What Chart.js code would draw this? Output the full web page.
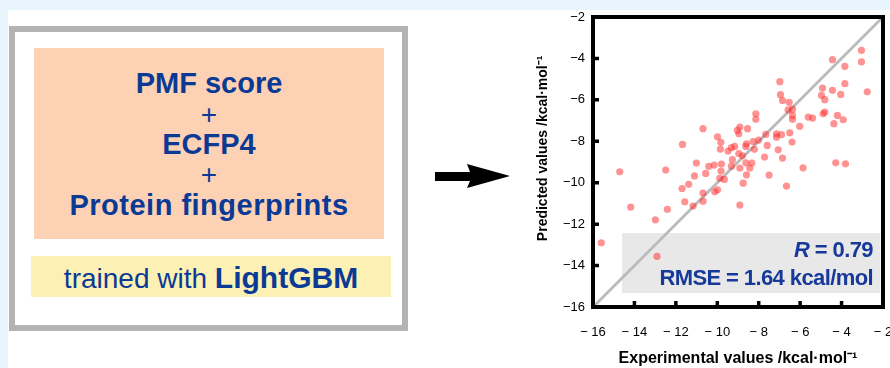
<!DOCTYPE html>
<html>
<head>
<meta charset="utf-8">
<script src="https://cdn.jsdelivr.net/npm/chart.js@4"></script>
<style>
  body { margin: 0; width: 890px; height: 368px; background: #fff; position: relative; overflow: hidden;
         font-family: "Liberation Sans", Arial, sans-serif; }
  .band-top { position: absolute; left: 0; top: 0; width: 890px; height: 10px; background: #e9f5fc; }
  .band-left { position: absolute; left: 0; top: 0; width: 8px; height: 368px; background: #e9f5fc; }
  .outer { position: absolute; left: 9px; top: 26px; width: 399px; height: 305px; box-sizing: border-box;
           border: 6px solid #b3b3b3; background: #fff; }
  .peach { position: absolute; left: 34px; top: 48px; width: 350px; height: 191px; background: #fdd1b3; }
  .line { position: absolute; left: 0; width: 100%; text-align: center; color: #0b3a94;
          font-size: 29px; line-height: 32px; font-weight: bold; }
  .line.wide { letter-spacing: 0.5px; }
  .plus { font-weight: normal; font-size: 28px; }
  .yellow { position: absolute; left: 31px; top: 256px; width: 360px; height: 41px; background: #fdf0b5;
            text-align: center; color: #0b3a94; font-size: 28px; line-height: 44px; white-space: nowrap; }
  .yellow b { font-weight: bold; font-size: 30px; }
  #arrow { position: absolute; left: 0; top: 0; }
  #wrap { position: absolute; left: 520px; top: 0; width: 370px; height: 368px; }
</style>
</head>
<body>
<div class="band-top"></div>
<div class="band-left"></div>
<div class="outer"></div>
<div class="peach">
  <div class="line" style="top:19px">PMF score</div>
  <div class="line plus" style="top:51px">+</div>
  <div class="line" style="top:80px">ECFP4</div>
  <div class="line plus" style="top:111px">+</div>
  <div class="line wide" style="top:141px">Protein fingerprints</div>
</div>
<div class="yellow">trained with <b>LightGBM</b></div>
<svg id="arrow" width="520" height="368">
  <polygon points="435,172 470,172 467,164 510,176 467,188 470,181 435,181" fill="#000"/>
</svg>
<div id="wrap"><canvas id="chart"></canvas></div>

<script>
// experimental (x) vs predicted (y), kcal/mol
const expX = [
  -15.60, -14.71, -14.18, -12.91, -12.99, -12.49, -12.41, -11.68, -11.70, -11.57,
  -11.38, -11.10, -11.17, -11.01, -10.69, -10.69, -10.69, -10.56, -10.41, -10.15,
  -10.12, -9.99, -9.99, -9.83, -9.85, -9.80, -9.82, -9.88, -9.66, -9.48,
  -9.32, -9.27, -9.32, -9.16, -9.03, -8.91, -8.96, -8.96, -8.91, -8.91,
  -8.75, -8.79, -8.62, -8.62, -8.59, -8.54, -8.59, -8.43, -8.33, -8.27,
  -8.21, -8.14, -8.14, -8.01, -7.72, -7.66, -7.59, -7.50, -7.14, -7.06,
  -7.14, -6.98, -6.95, -6.90, -6.85, -6.85, -6.66, -6.58, -6.53, -6.50,
  -6.37, -6.37, -6.37, -6.39, -6.02, -5.86, -5.61, -5.40, -4.97, -4.92,
  -4.89, -4.81, -4.81, -4.44, -4.44, -4.37, -4.28, -4.20, -4.04, -3.92,
  -3.84, -3.84, -3.81, -3.04, -3.04, -2.76
];
const predY = [
  -12.90, -9.47, -11.18, -13.56, -11.79, -9.39, -11.28, -8.15, -10.28, -10.92,
  -10.08, -9.67, -11.13, -9.05, -7.39, -10.50, -10.89, -9.55, -9.21, -9.15,
  -10.44, -7.78, -10.34, -8.05, -8.38, -9.10, -9.44, -9.79, -9.84, -8.47,
  -8.31, -8.89, -9.20, -8.25, -7.47, -7.31, -7.64, -8.59, -9.29, -11.08,
  -10.02, -8.70, -8.25, -9.04, -9.62, -7.39, -8.12, -9.29, -9.05, -8.01,
  -8.39, -6.67, -6.94, -7.94, -8.76, -7.67, -8.20, -9.63, -7.64, -8.41,
  -7.80, -5.12, -5.75, -7.68, -8.81, -6.03, -10.16, -6.48, -6.12, -7.59,
  -6.75, -6.94, -6.45, -8.04, -7.28, -9.28, -6.83, -6.88, -5.78, -5.43,
  -6.67, -6.59, -5.99, -4.06, -5.54, -7.15, -9.04, -6.75, -5.74, -6.96,
  -4.38, -5.22, -9.09, -3.61, -4.17, -5.61
];
const diagX = [-16, -2];
const diagY = [-16, -2];
const axisMin = -16;
const axisMax = -2;
const tickStep = 2;
const xTitle = 'Experimental values /kcal\u00b7mol\u207b\u00b9';
const yTitle = '       Predicted values /kcal\u00b7mol\u207b\u00b9';
const statLines = ['0.79', '1.64 kcal/mol'];

const FONT = '"Liberation Sans", Arial, sans-serif';
const points = expX.map((x, i) => ({ x: x, y: predY[i] }));
const diag = diagX.map((x, i) => ({ x: x, y: diagY[i] }));

// frame, inner tick marks, stats panel
const framePlugin = {
  id: 'frame',
  beforeDatasetsDraw(chart) {
    const ctx = chart.ctx;
    const xs = chart.scales.x, ys = chart.scales.y;
    const l = xs.getPixelForValue(-14.6), r = xs.getPixelForValue(-2.13);
    const t = ys.getPixelForValue(-12.43), b = ys.getPixelForValue(-15.33);
    ctx.save();
    ctx.fillStyle = '#e8e8e8';
    ctx.fillRect(l, t, r - l, b - t);
    ctx.restore();
  },
  afterDatasetsDraw(chart) {
    const ctx = chart.ctx;
    const a = chart.chartArea;
    const xs = chart.scales.x, ys = chart.scales.y;
    ctx.save();
    // stats text
    ctx.fillStyle = '#16399a';
    ctx.textBaseline = 'alphabetic';
    ctx.textAlign = 'right';
    ctx.letterSpacing = '-0.6px';
    const rx = a.right - 10;
    ctx.font = 'bold 22px ' + FONT;
    const s1 = ' = ' + statLines[0];
    ctx.fillText(s1, rx, a.bottom - 50);
    const w1 = ctx.measureText(s1).width;
    ctx.font = 'italic bold 22px ' + FONT;
    ctx.fillText('R', rx - w1, a.bottom - 50);
    ctx.font = 'bold 22px ' + FONT;
    ctx.fillText('RMSE = ' + statLines[1], rx, a.bottom - 22);
    ctx.letterSpacing = '0px';

    // frame
    ctx.strokeStyle = '#000';
    ctx.lineWidth = 4;
    ctx.strokeRect(a.left, a.top, a.right - a.left, a.bottom - a.top);
    // ticks pointing inward
    ctx.lineWidth = 3.5;
    ctx.beginPath();
    for (let v = axisMin + tickStep; v < axisMax; v += tickStep) {
      const px = xs.getPixelForValue(v);
      ctx.moveTo(px, a.bottom);
      ctx.lineTo(px, a.bottom - 6);
      const py = ys.getPixelForValue(v);
      ctx.moveTo(a.left, py);
      ctx.lineTo(a.left + 6, py);
    }
    ctx.stroke();
    ctx.restore();
  }
};

new Chart(document.getElementById('chart'), {
  type: 'scatter',
  data: {
    datasets: [
      {
        data: points,
        backgroundColor: 'rgba(255, 40, 40, 0.5)',
        borderWidth: 0,
        pointRadius: 3.6,
        pointHoverRadius: 3.6,
        order: 0
      },
      {
        type: 'line',
        data: diag,
        borderColor: '#bbbbbb',
        borderWidth: 3,
        pointRadius: 0,
        fill: false,
        order: 1
      }
    ]
  },
  options: {
    responsive: true,
    maintainAspectRatio: false,
    animation: false,
    layout: { padding: { top: 17, right: 7, left: 0, bottom: 0 } },
    plugins: { legend: { display: false }, tooltip: { enabled: false } },
    scales: {
      x: {
        type: 'linear',
        min: axisMin,
        max: axisMax,
        grid: { display: false, drawTicks: false },
        border: { display: false },
        ticks: {
          stepSize: tickStep,
          padding: 18,
          color: '#000',
          font: { family: FONT, size: 13 },
          maxRotation: 0,
          callback: (v) => '\u2212 ' + Math.abs(v)
        },
        title: {
          display: true,
          text: xTitle,
          color: '#000',
          font: { family: FONT, size: 16, weight: 'bold' },
          padding: { top: 0, bottom: 0 }
        },
        afterFit(scale) {
          scale.height = 61;
          scale.paddingLeft = 0;
          scale.paddingRight = 0;
        }
      },
      y: {
        type: 'linear',
        min: axisMin,
        max: axisMax,
        grid: { display: false, drawTicks: false },
        border: { display: false },
        ticks: {
          stepSize: tickStep,
          padding: 8,
          color: '#000',
          font: { family: FONT, size: 13 },
          callback: (v) => '\u2212' + Math.abs(v)
        },
        title: {
          display: true,
          text: yTitle,
          color: '#000',
          font: { family: FONT, size: 14, weight: 'bold' },
          padding: { top: 15, bottom: 0 }
        },
        afterFit(scale) {
          scale.width = 73;
          scale.paddingTop = 0;
          scale.paddingBottom = 0;
        }
      }
    }
  },
  plugins: [framePlugin]
});
</script>
</body>
</html>
